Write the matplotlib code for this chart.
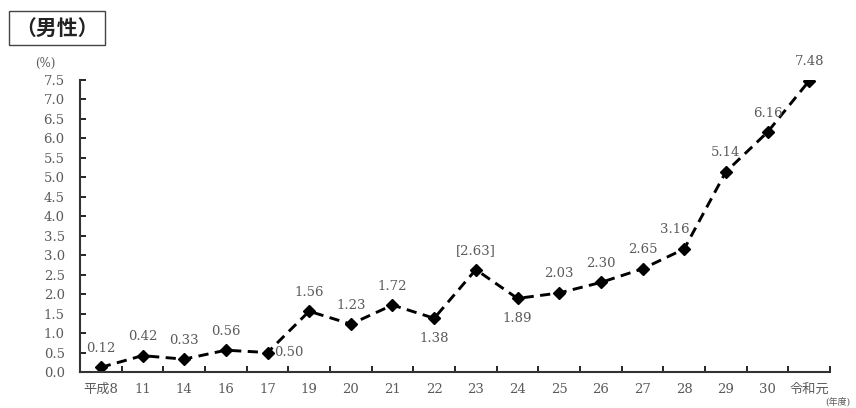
"""Male rate chart (平成8 - 令和元)."""

import matplotlib.pyplot as plt

plt.rcParams["font.family"] = ["DejaVu Serif", "Noto Sans CJK JP"]

years = ["平成8", "11", "14", "16", "17", "19", "20", "21", "22", "23",
         "24", "25", "26", "27", "28", "29", "30", "令和元"]
rates = [0.12, 0.42, 0.33, 0.56, 0.50, 1.56, 1.23, 1.72, 1.38, 2.63,
         1.89, 2.03, 2.30, 2.65, 3.16, 5.14, 6.16, 7.48]
value_labels = ["0.12", "0.42", "0.33", "0.56", "0.50", "1.56", "1.23", "1.72",
                "1.38", "[2.63]", "1.89", "2.03", "2.30", "2.65", "3.16",
                "5.14", "6.16", "7.48"]
# where each value label sits relative to its point
label_pos = ["above"] * 18
label_pos[4] = "right"
label_pos[8] = "below"
label_pos[10] = "below"
label_pos[14] = "above_left"

text_color = "#5a5a5a"

fig = plt.figure(figsize=(8.56, 4.08), dpi=100)
ax = fig.add_axes([80 / 856, 1 - 372 / 408, 750 / 856, 292 / 408])

x = list(range(len(years)))
ax.plot(x, rates, color="black", linestyle=(0, (3.5, 2.2)), linewidth=2.1,
        marker="D", markersize=6.5, markerfacecolor="black", markeredgecolor="black")

for xi, yi, lab, pos in zip(x, rates, value_labels, label_pos):
    if pos == "above":
        ax.annotate(lab, (xi, yi), xytext=(0, 9), textcoords="offset points",
                    ha="center", va="bottom", fontsize=9.5, color=text_color)
    elif pos == "above_left":
        ax.annotate(lab, (xi, yi), xytext=(-7, 9), textcoords="offset points",
                    ha="center", va="bottom", fontsize=9.5, color=text_color)
    elif pos == "below":
        ax.annotate(lab, (xi, yi), xytext=(0, -10), textcoords="offset points",
                    ha="center", va="top", fontsize=9.5, color=text_color)
    else:
        ax.annotate(lab, (xi, yi), xytext=(5, 0), textcoords="offset points",
                    ha="left", va="center", fontsize=9.5, color=text_color)

ax.set_xlim(-0.5, len(years) - 0.5)
ax.set_ylim(0, 7.5)
ax.set_yticks([i * 0.5 for i in range(16)])
ax.set_yticklabels([f"{i * 0.5:.1f}" for i in range(16)], fontsize=9.5, color=text_color)
ax.set_xticks(x)
ax.set_xticklabels(years, fontsize=9.5, color=text_color)
ax.set_xticks([i + 0.5 for i in range(len(years))], minor=True)
ax.tick_params(axis="x", which="major", length=0, pad=8)
ax.tick_params(axis="x", which="minor", direction="in", length=4, width=1.2)
ax.tick_params(axis="y", direction="in", length=4, width=1.2, pad=11)

for side in ["top", "right"]:
    ax.spines[side].set_visible(False)
for side in ["left", "bottom"]:
    ax.spines[side].set_linewidth(1.5)
    ax.spines[side].set_color("#333333")

fig.text(45 / 856, 1 - 63 / 408, "(%)", fontsize=8.5, color=text_color,
         ha="center", va="center")
fig.text(838 / 856, 1 - 402 / 408, "(年度)", fontsize=6.5, color=text_color,
         ha="center", va="center")
fig.text(57 / 856, 1 - 28 / 408, "（男性）", fontsize=15, color="#222222",
         ha="center", va="center", family=["Noto Sans CJK JP"], fontweight="bold",
         bbox=dict(boxstyle="square,pad=0.3", facecolor="white",
                   edgecolor="#444444", linewidth=1.0))

fig.savefig("out.png", dpi=100)
plt.close(fig)
